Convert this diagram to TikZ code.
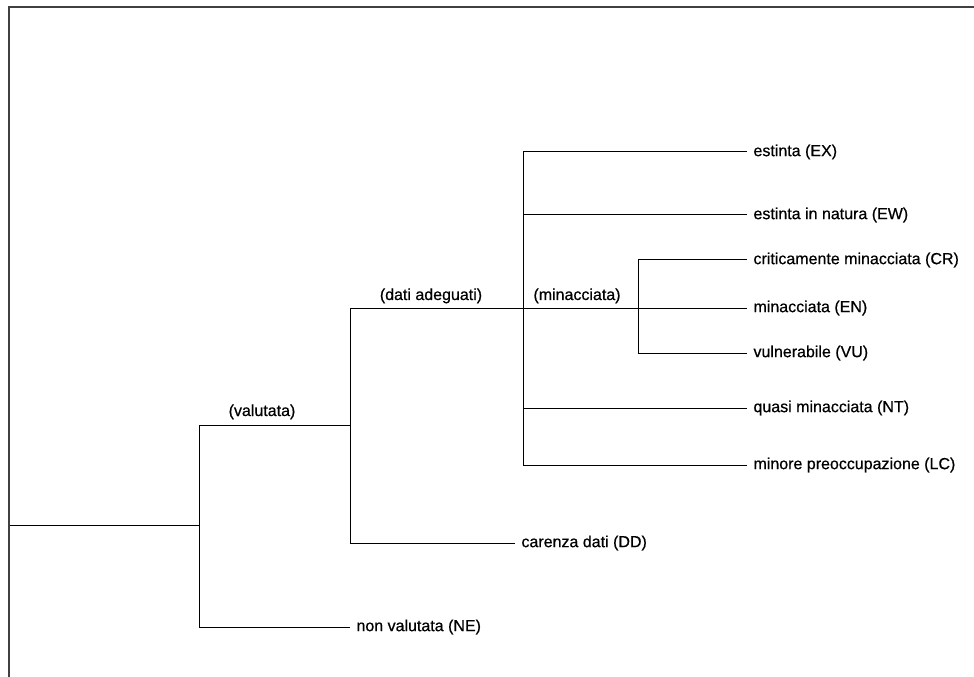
\documentclass[tikz,border=0pt]{standalone}
\usepackage{fontspec}
\setmainfont{Liberation Sans}[FakeBold=0.6]
\tikzset{every picture/.style={line width=0.75pt}}
\tikzset{
  leaf/.style={anchor=west, inner sep=4.5pt, font=\fontsize{12}{14}\selectfont},
  branchlbl/.style={anchor=base, inner sep=0.75pt, font=\fontsize{12}{14}\selectfont},
  frame/.style={line width=1.5pt, color=black!75}
}

\begin{document}
\begin{tikzpicture}[x=0.75pt,y=0.75pt,yscale=-1,xscale=1]
	\useasboundingbox (0,0) rectangle (974,677);
	
	%Frame
	\draw [frame] (9,677) -- (9,7.5) -- (974,7.5) ;
	
	% Junctions
	\coordinate (rt) at (10,525);
	\coordinate (va) at (199,525);
	\coordinate (vaT) at (199,425);
	\coordinate (vaB) at (199,627);
	\coordinate (da) at (350,425);
	\coordinate (daT) at (350,308);
	\coordinate (daB) at (350,543);
	\coordinate (mi) at (523,308);
	\coordinate (miT) at (523,152);
	\coordinate (miB) at (523,465);
	\coordinate (en) at (638,308);
	\coordinate (enT) at (638,260);
	\coordinate (enB) at (638,353);
	
	% Text Node
	\node [leaf] (ex) at (747,152) {estinta (EX)};
	% Text Node
	\node [leaf] (ew) at (747,215) {estinta in natura (EW)};
	% Text Node
	\node [leaf] (cr) at (747,260) {criticamente minacciata (CR)};
	% Text Node
	\node [leaf] (enl) at (747,308) {minacciata (EN)};
	% Text Node
	\node [leaf] (vu) at (747,353) {vulnerabile (VU)};
	% Text Node
	\node [leaf] (nt) at (747,408) {quasi minacciata (NT)};
	% Text Node
	\node [leaf] (lc) at (747,465) {minore preoccupazione (LC)};
	% Text Node
	\node [leaf] (dd) at (515,543) {carenza dati (DD)};
	% Text Node
	\node [leaf] (ne) at (350,627) {non valutata (NE)};
	% Text Node
	\node [branchlbl] (lva) at (262,416) {(valutata)};
	% Text Node
	\node [branchlbl] (lda) at (431,300) {(dati adeguati)};
	% Text Node
	\node [branchlbl] (lmi) at (577,300) {(minacciata)};
	
	%Straight Lines
	\draw (rt) -- (va) ;
	\draw (vaT) -- (vaB) ;
	\draw (vaT) -- (da) ;
	\draw (vaB) -- (ne.west) ;
	\draw (daT) -- (daB) ;
	\draw (daB) -- (dd.west) ;
	\draw (daT) -- (enl.west) ;
	\draw (miT) -- (miB) ;
	\draw (miT) -- (ex.west) ;
	\draw (ew.west -| mi) -- (ew.west) ;
	\draw (nt.west -| mi) -- (nt.west) ;
	\draw (miB) -- (lc.west) ;
	\draw (enT) -- (enB) ;
	\draw (enT) -- (cr.west) ;
	\draw (enB) -- (vu.west) ;
	
\end{tikzpicture}
\end{document}
